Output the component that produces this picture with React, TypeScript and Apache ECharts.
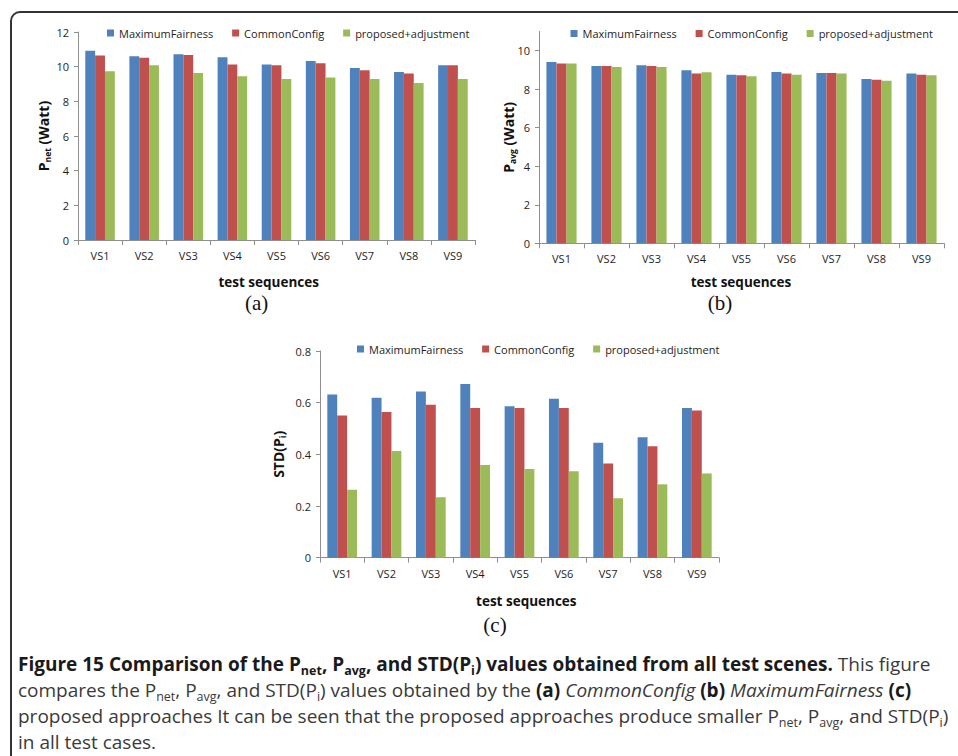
import React, { useEffect, useRef } from "react";
import * as echarts from "echarts";

const categories = ["VS1", "VS2", "VS3", "VS4", "VS5", "VS6", "VS7", "VS8", "VS9"];
const seriesNames = ["MaximumFairness", "CommonConfig", "proposed+adjustment"];

const pnetMaxFair = [10.92, 10.6, 10.71, 10.54, 10.13, 10.33, 9.92, 9.69, 10.08];
const pnetCommon = [10.64, 10.52, 10.67, 10.13, 10.08, 10.19, 9.79, 9.6, 10.08];
const pnetProposed = [9.73, 10.08, 9.63, 9.44, 9.29, 9.38, 9.29, 9.06, 9.29];

const pavgMaxFair = [9.41, 9.2, 9.24, 8.98, 8.75, 8.89, 8.84, 8.53, 8.81];
const pavgCommon = [9.33, 9.2, 9.2, 8.81, 8.72, 8.81, 8.84, 8.49, 8.75];
const pavgProposed = [9.33, 9.15, 9.15, 8.88, 8.67, 8.75, 8.81, 8.44, 8.72];

const stdMaxFair = [0.632, 0.619, 0.643, 0.672, 0.586, 0.615, 0.445, 0.466, 0.579];
const stdCommon = [0.55, 0.564, 0.592, 0.579, 0.579, 0.579, 0.365, 0.431, 0.57];
const stdProposed = [0.263, 0.413, 0.234, 0.359, 0.343, 0.335, 0.23, 0.284, 0.326];

const pnetTicks = [0, 2, 4, 6, 8, 10, 12];
const pavgTicks = [0, 2, 4, 6, 8, 10];
const stdTicks = [0, 0.2, 0.4, 0.6, 0.8];

const colors = ["#4F81BD", "#C0504D", "#9BBB59"];

const SANS = "'Open Sans', 'Noto Sans', sans-serif";
const SERIF = "'Liberation Serif', 'DejaVu Serif', serif";
const AXIS_GREY = "#8f8f8f";
const TEXT = "#1e1e1e";

function xAxisFor(idx: number) {
  return {
    type: "category" as const,
    gridIndex: idx,
    data: categories,
    axisLine: { show: true, lineStyle: { color: AXIS_GREY, width: 1 } },
    axisTick: { show: true, length: 5, lineStyle: { color: AXIS_GREY } },
    axisLabel: { fontFamily: SANS, fontSize: 11, color: TEXT, margin: 10 },
    splitLine: { show: false },
  };
}

function yAxisFor(idx: number, max: number, ticks: number[], name: string, rich: any, nameGap: number) {
  return {
    type: "value" as const,
    gridIndex: idx,
    min: 0,
    max,
    axisLine: { show: true, lineStyle: { color: AXIS_GREY, width: 1 } },
    axisTick: { show: true, length: 4, lineStyle: { color: AXIS_GREY }, customValues: ticks },
    axisLabel: { fontFamily: SANS, fontSize: 11, color: TEXT, margin: 9, customValues: ticks },
    splitLine: { show: false },
    name,
    nameLocation: "middle" as const,
    nameGap,
    nameMoveOverlap: false,
    nameTextStyle: { rich },
  };
}

const nameRich = {
  p: { fontFamily: SANS, fontSize: 14, fontWeight: "bold", color: "#111", lineHeight: 18 },
  s: { fontFamily: SANS, fontSize: 8.5, fontWeight: "bold", color: "#111", verticalAlign: "bottom", height: 9, lineHeight: 18 },
};

function barSeries(name: string, data: number[], idx: number, color: string) {
  return {
    type: "bar" as const,
    name,
    data,
    xAxisIndex: idx,
    yAxisIndex: idx,
    barGap: "0%",
    barCategoryGap: "33%",
    itemStyle: { color },
    emphasis: { disabled: true },
  };
}

function legendFor(left: number, top: number) {
  return {
    left,
    top,
    padding: 0,
    orient: "horizontal" as const,
    icon: "rect",
    itemWidth: 7,
    itemHeight: 7,
    itemGap: 19,
    selectedMode: false,
    data: seriesNames,
    textStyle: { fontFamily: SANS, fontSize: 11, color: TEXT },
  };
}

const CAP_SIZE = 19;
const CAP_SUB = 12.5;
const CAP_LH = 26;
const capRich = {
  b: { fontFamily: SANS, fontSize: CAP_SIZE, fontWeight: "bold", fill: "#1a1a1a", lineHeight: CAP_LH },
  bs: { fontFamily: SANS, fontSize: CAP_SUB, fontWeight: "bold", fill: "#1a1a1a", lineHeight: CAP_LH, verticalAlign: "bottom", height: 14 },
  r: { fontFamily: SANS, fontSize: CAP_SIZE, fill: "#3a3a3a", lineHeight: CAP_LH },
  rs: { fontFamily: SANS, fontSize: CAP_SUB, fill: "#3a3a3a", lineHeight: CAP_LH, verticalAlign: "bottom", height: 14 },
  i: { fontFamily: SANS, fontSize: CAP_SIZE, fontStyle: "italic", fill: "#3a3a3a", lineHeight: CAP_LH },
};

const captionLines = [
  "{b|Figure 15 Comparison of the P}{bs|net}{b|, P}{bs|avg}{b|, and STD(P}{bs|i}{b|) values obtained from all test scenes.}{r| This figure}",
  "{r|compares the P}{rs|net}{r|, P}{rs|avg}{r|, and STD(P}{rs|i}{r|) values obtained by the }{b|(a)}{r| }{i|CommonConfig}{r| }{b|(b)}{r| }{i|MaximumFairness}{r| }{b|(c)}",
  "{r|proposed approaches It can be seen that the proposed approaches produce smaller P}{rs|net}{r|, P}{rs|avg}{r|, and STD(P}{rs|i}{r|)}",
  "{r|in all test cases.}",
];
const captionTops = [651, 677, 703, 729];

function centeredText(text: string, x: number, y: number, font: any) {
  return {
    type: "text",
    x,
    y,
    silent: true,
    style: { text, align: "center", verticalAlign: "middle", fill: "#111", ...font },
  };
}

export default function App() {
  const ref = useRef<HTMLDivElement>(null);
  useEffect(() => {
    const chart = echarts.init(ref.current!, null, { renderer: "svg" });
    const option: any = {
      animation: false,
      backgroundColor: "#ffffff",
      grid: [
        { left: 78, top: 32, width: 397, height: 208, outerBoundsMode: "none" },
        { left: 539, top: 31.4, width: 405, height: 211.9, outerBoundsMode: "none" },
        { left: 320, top: 351, width: 399, height: 206.7, outerBoundsMode: "none" },
      ],
      legend: [legendFor(107, 27.5), legendFor(570.5, 28), legendFor(357, 343.5)],
      xAxis: [xAxisFor(0), xAxisFor(1), xAxisFor(2)],
      yAxis: [
        yAxisFor(0, 12, pnetTicks, "{p|P}{s|net}{p| (Watt)}", nameRich, 26),
        yAxisFor(1, 11, pavgTicks, "{p|P}{s|avg}{p| (Watt)}", nameRich, 22),
        yAxisFor(2, 0.8, stdTicks, "{p|STD(P}{s|i}{p|)}", nameRich, 33),
      ],
      series: [
        barSeries(seriesNames[0], pnetMaxFair, 0, colors[0]),
        barSeries(seriesNames[1], pnetCommon, 0, colors[1]),
        barSeries(seriesNames[2], pnetProposed, 0, colors[2]),
        barSeries(seriesNames[0], pavgMaxFair, 1, colors[0]),
        barSeries(seriesNames[1], pavgCommon, 1, colors[1]),
        barSeries(seriesNames[2], pavgProposed, 1, colors[2]),
        barSeries(seriesNames[0], stdMaxFair, 2, colors[0]),
        barSeries(seriesNames[1], stdCommon, 2, colors[1]),
        barSeries(seriesNames[2], stdProposed, 2, colors[2]),
      ],
      graphic: [
        {
          type: "rect",
          silent: true,
          shape: { x: 11, y: 12, width: 1000, height: 800, r: 9 },
          style: { fill: "none", stroke: "#333", lineWidth: 2 },
        },
        centeredText("test sequences", 268.7, 281.7, { fontFamily: SANS, fontSize: 13.5, fontWeight: "bold" }),
        centeredText("test sequences", 741, 281.7, { fontFamily: SANS, fontSize: 13.5, fontWeight: "bold" }),
        centeredText("test sequences", 526.3, 600.7, { fontFamily: SANS, fontSize: 13.5, fontWeight: "bold" }),
        centeredText("(a)", 256.7, 303.3, { fontFamily: SERIF, fontSize: 21 }),
        centeredText("(b)", 720, 303.3, { fontFamily: SERIF, fontSize: 21 }),
        centeredText("(c)", 495, 625, { fontFamily: SERIF, fontSize: 21 }),
        ...captionLines.map((t, k) => ({
          type: "text",
          x: 18,
          y: captionTops[k],
          silent: true,
          style: { text: t, align: "left", verticalAlign: "top", rich: capRich, fontFamily: SANS, fontSize: CAP_SIZE, lineHeight: CAP_LH },
        })),
      ],
    };
    chart.setOption(option);
    return () => chart.dispose();
  }, []);
  return (
    <div
      ref={ref}
      style={{ position: "absolute", left: 0, top: 0, width: 958, height: 756, background: "#fff" }}
    />
  );
}
